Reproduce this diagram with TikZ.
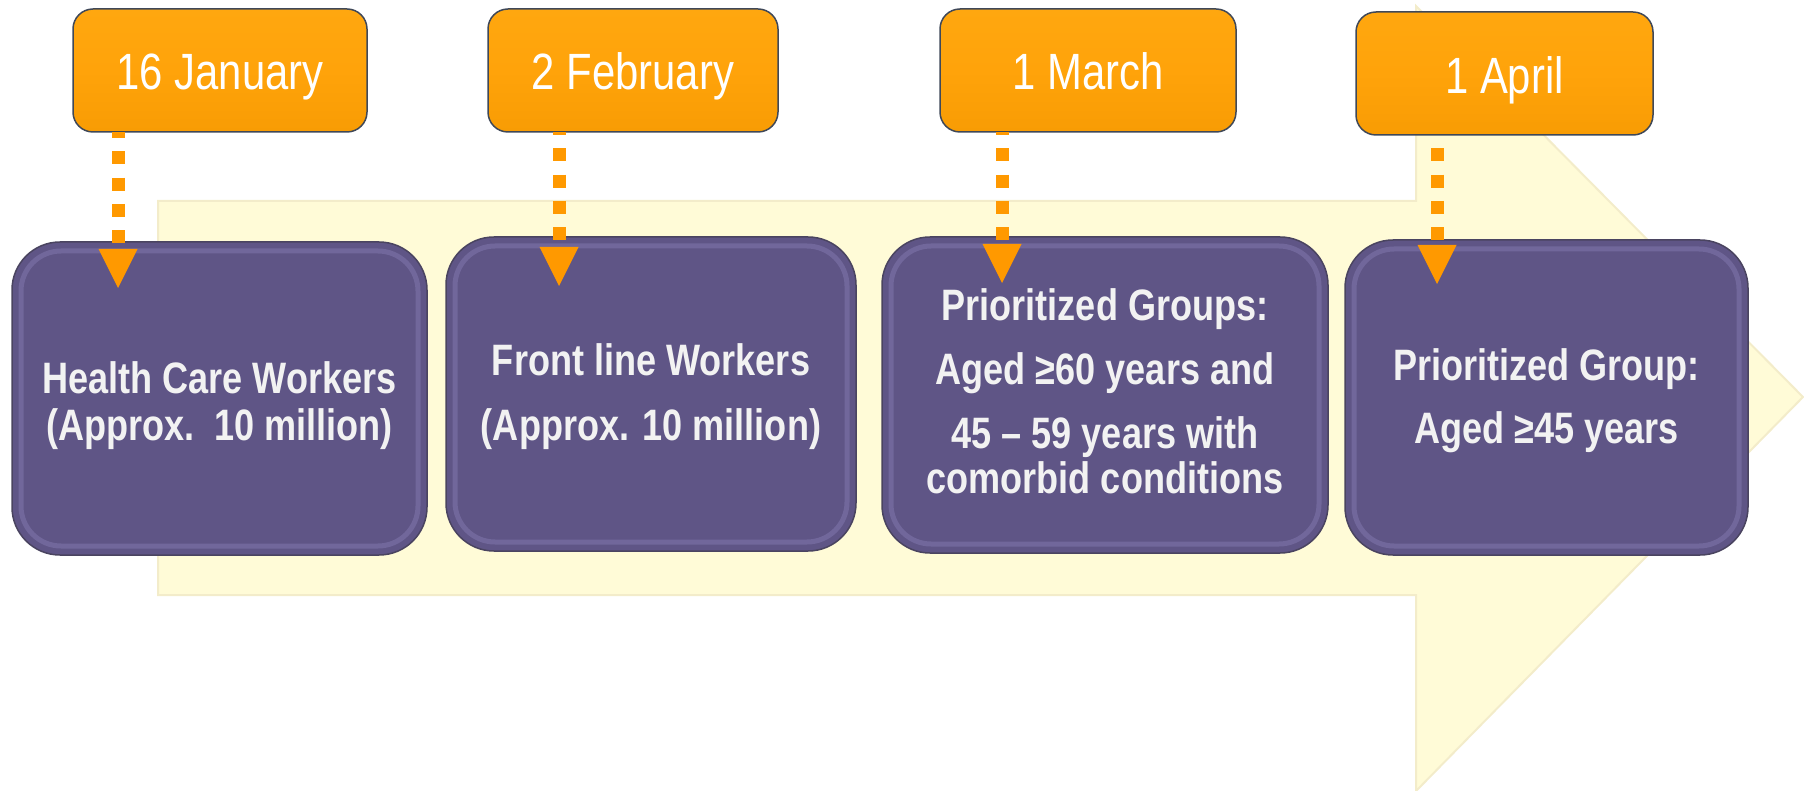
\documentclass[tikz,border=0pt]{standalone}
\usepackage{fontspec}
\usetikzlibrary{arrows.meta}
\newfontfamily\nfont[FakeStretch=0.82]{Liberation Sans}
\definecolor{pfill}{HTML}{5F5586}
\definecolor{pedge}{HTML}{4A4460}
\definecolor{pbev}{HTML}{A79FDA}
\definecolor{ptxt}{HTML}{F2F2F2}
\definecolor{ofill}{HTML}{FFA30A}
\definecolor{otop}{HTML}{FFA70F}
\definecolor{obot}{HTML}{F89C04}
\definecolor{oedge}{HTML}{3F4858}
\definecolor{dorange}{HTML}{FF9900}
\definecolor{yfill}{HTML}{FFFBD7}
\definecolor{yedge}{HTML}{F3ECCA}
\tikzset{
  pbox/.style={draw=pedge, line width=1.5pt, fill=pfill, rounded corners=48pt, inner sep=0pt, outer sep=0pt},
  bevel/.style={draw=pbev, draw opacity=0.25, line width=5pt, rounded corners=40pt},
  obox/.style={draw=oedge, line width=1.5pt, top color=otop, bottom color=obot, middle color=ofill, rounded corners=20pt, inner sep=0pt, outer sep=0pt},
  ptext/.style={text=ptxt, font=\nfont\bfseries\fontsize{44}{47}\selectfont, align=center, inner sep=0pt},
  otext/.style={text=white, font=\nfont\fontsize{51}{55}\selectfont, inner sep=0pt, anchor=base},
  dasharrow/.style={draw=dorange, line width=13pt, dash pattern=on 13pt off 13.3pt, -{Triangle[length=39pt,width=39pt,line width=0pt]}},
}
\begin{document}
\begin{tikzpicture}[x=1pt,y=-1pt]
\useasboundingbox (0,0) rectangle (1804,791);
% big background arrow
\draw[fill=yfill, draw=yedge, line width=2pt] (158,201) -- (1416,201) -- (1416,6) -- (1803,397) -- (1416,791) -- (1416,595) -- (158,595) -- cycle;
% purple boxes
\node[pbox, minimum width=415pt, minimum height=313pt] (p1) at (219.5,398.5) {};
\node[pbox, minimum width=410pt, minimum height=314pt] (p2) at (651,394) {};
\node[pbox, minimum width=446pt, minimum height=316pt] (p3) at (1105,395) {};
\node[pbox, minimum width=403pt, minimum height=315pt] (p4) at (1546.5,397.5) {};
\foreach \p in {p1,p2,p3,p4}{
  \draw[bevel] ([shift={(9,9)}]\p.north west) rectangle ([shift={(-9,-9)}]\p.south east);
}
% purple texts
\node[ptext] (p1t) at (219.5,405.4) {Health Care Workers\\(Approx.\ \ 10 million)};
\node[ptext] (p2t) at (651,396.4) {Front line Workers\\[18pt](Approx. 10 million)};
\node[ptext] (p3t) at (1105,391) {Prioritized Groups:\\[17pt]Aged ≥60 years and\\[17pt]45 – 59 years with\\[-2pt]comorbid conditions};
\node[ptext] (p4t) at (1546.5,400.4) {Prioritized Group:\\[16pt]Aged ≥45 years};
% orange boxes
\node[obox, minimum width=294pt, minimum height=123pt] (o1) at (220,70.5) {};
\node[obox, minimum width=290pt, minimum height=123pt] (o2) at (633,70.5) {};
\node[obox, minimum width=296pt, minimum height=123pt] (o3) at (1088,70.5) {};
\node[obox, minimum width=297pt, minimum height=123pt] (o4) at (1504.5,73.5) {};
\node[otext] (o1t) at (220,90) {16 January};
\node[otext] (o2t) at (633,90) {2 February};
\node[otext] (o3t) at (1088,90) {1 March};
\node[otext] (o4t) at (1504.5,94) {1 April};
% connectors
\coordinate (t1) at (118,288);
\coordinate (t2) at (559,286);
\coordinate (t3) at (1002,283);
\coordinate (t4) at (1437,284);
\draw[dasharrow, dash phase=7pt] (o1.south -| t1) -- (t1);
\draw[dasharrow, dash phase=10pt] (o2.south -| t2) -- (t2);
\draw[dasharrow, dash phase=10pt] (o3.south -| t3) -- (t3);
\draw[dasharrow, dash phase=13pt] (o4.south -| t4) -- (t4);
\end{tikzpicture}
\end{document}
